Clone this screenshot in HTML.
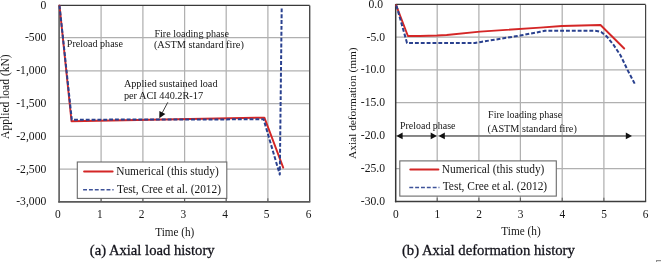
<!DOCTYPE html>
<html><head><meta charset="utf-8"><title>Axial load and deformation history</title>
<style>
html,body{margin:0;padding:0;background:#fff;}
body{width:661px;height:262px;overflow:hidden;}
svg{display:block;}
text{font-family:'Liberation Serif','Times New Roman',serif;fill:#161616;}
.cap{fill:#14141c;stroke:#14141c;stroke-width:0.3px;}
</style></head>
<body>
<svg width="661" height="262" viewBox="0 0 661 262">
<rect width="661" height="262" fill="#fff"/>
<line x1="101.10" y1="5.4" x2="101.10" y2="201.8" stroke="#b0b0b0" stroke-width="1.25"/>
<line x1="142.90" y1="5.4" x2="142.90" y2="201.8" stroke="#b0b0b0" stroke-width="1.25"/>
<line x1="184.60" y1="5.4" x2="184.60" y2="201.8" stroke="#b0b0b0" stroke-width="1.25"/>
<line x1="226.20" y1="5.4" x2="226.20" y2="201.8" stroke="#b0b0b0" stroke-width="1.25"/>
<line x1="267.90" y1="5.4" x2="267.90" y2="201.8" stroke="#b0b0b0" stroke-width="1.25"/>
<line x1="59.1" y1="37.70" x2="309.7" y2="37.70" stroke="#b0b0b0" stroke-width="1.25"/>
<line x1="59.1" y1="70.90" x2="309.7" y2="70.90" stroke="#b0b0b0" stroke-width="1.25"/>
<line x1="59.1" y1="103.60" x2="309.7" y2="103.60" stroke="#b0b0b0" stroke-width="1.25"/>
<line x1="59.1" y1="136.30" x2="309.7" y2="136.30" stroke="#b0b0b0" stroke-width="1.25"/>
<line x1="59.1" y1="169.20" x2="309.7" y2="169.20" stroke="#b0b0b0" stroke-width="1.25"/>
<text x="66.80" y="47.30" font-size="10.3" textLength="56.20" lengthAdjust="spacingAndGlyphs" class="an">Preload phase</text>
<text x="154.40" y="36.60" font-size="10.3" textLength="74.60" lengthAdjust="spacingAndGlyphs" class="an">Fire loading phase</text>
<text x="153.90" y="48.00" font-size="10.3" textLength="90.00" lengthAdjust="spacingAndGlyphs" class="an">(ASTM standard fire)</text>
<text x="123.90" y="86.80" font-size="10.3" textLength="93.60" lengthAdjust="spacingAndGlyphs" class="an">Applied sustained load</text>
<text x="123.90" y="98.50" font-size="10.3" textLength="79.20" lengthAdjust="spacingAndGlyphs" class="an">per ACI 440.2R-17</text>
<rect x="77.3" y="162.0" width="149.50" height="36.40" fill="#fff" stroke="#6a6a6a" stroke-width="1.1"/>
<line x1="84.1" y1="171.4" x2="112.6" y2="171.4" stroke="#d42626" stroke-width="2" stroke-linecap="round"/>
<line x1="83.1" y1="189.7" x2="113.6" y2="189.7" stroke="#2a418f" stroke-width="1.6" stroke-dasharray="3.9 1.95" opacity="0.9"/>
<text x="116.20" y="174.80" font-size="12.4" textLength="102.50" lengthAdjust="spacingAndGlyphs" class="lg">Numerical (this study)</text>
<text x="117.00" y="193.30" font-size="12.4" textLength="104.00" lengthAdjust="spacingAndGlyphs" class="lg">Test, Cree et al. (2012)</text>
<line x1="59.1" y1="5.4" x2="309.7" y2="5.4" stroke="#3a3a3a" stroke-width="1.2"/>
<line x1="309.7" y1="5.4" x2="309.7" y2="201.8" stroke="#4a4a4a" stroke-width="1.4"/>
<line x1="59.1" y1="4.800000000000001" x2="59.1" y2="202.60000000000002" stroke="#5a5a5a" stroke-width="1.6"/>
<line x1="58.300000000000004" y1="201.8" x2="310.3" y2="201.8" stroke="#5a5a5a" stroke-width="1.7"/>
<line x1="101.10" y1="198.3" x2="101.10" y2="201.8" stroke="#5a5a5a" stroke-width="1"/>
<line x1="142.90" y1="198.3" x2="142.90" y2="201.8" stroke="#5a5a5a" stroke-width="1"/>
<line x1="184.60" y1="198.3" x2="184.60" y2="201.8" stroke="#5a5a5a" stroke-width="1"/>
<line x1="226.20" y1="198.3" x2="226.20" y2="201.8" stroke="#5a5a5a" stroke-width="1"/>
<line x1="267.90" y1="198.3" x2="267.90" y2="201.8" stroke="#5a5a5a" stroke-width="1"/>
<polyline points="59.50,5.60 71.50,121.20 264.40,117.60 283.20,167.60" fill="none" stroke="#d42626" stroke-width="1.9" stroke-linejoin="round" stroke-linecap="round"/>
<polyline points="59.50,5.60 71.80,119.70 263.60,119.30 279.80,174.60 281.70,8.10" fill="none" stroke="#2a418f" stroke-width="2" stroke-dasharray="3.9 1.95" stroke-linejoin="round"/>
<line x1="167.8" y1="102.3" x2="162.2" y2="112.8" stroke="#333" stroke-width="0.95"/>
<polygon points="159.3,118.2 159.4,110.9 165.4,114.0" fill="#111"/>
<text x="40.48" y="8.70" font-size="12" textLength="5.82" lengthAdjust="spacingAndGlyphs" class="tk">0</text>
<text x="24.96" y="41.00" font-size="12" textLength="21.34" lengthAdjust="spacingAndGlyphs" class="tk">-500</text>
<text x="16.23" y="74.20" font-size="12" textLength="30.07" lengthAdjust="spacingAndGlyphs" class="tk">-1,000</text>
<text x="16.23" y="106.90" font-size="12" textLength="30.07" lengthAdjust="spacingAndGlyphs" class="tk">-1,500</text>
<text x="16.23" y="139.60" font-size="12" textLength="30.07" lengthAdjust="spacingAndGlyphs" class="tk">-2,000</text>
<text x="16.23" y="172.50" font-size="12" textLength="30.07" lengthAdjust="spacingAndGlyphs" class="tk">-2,500</text>
<text x="16.23" y="205.30" font-size="12" textLength="30.07" lengthAdjust="spacingAndGlyphs" class="tk">-3,000</text>
<text x="55.05" y="218.40" font-size="12" textLength="5.70" lengthAdjust="spacingAndGlyphs" class="tk">0</text>
<text x="97.05" y="218.40" font-size="12" textLength="5.70" lengthAdjust="spacingAndGlyphs" class="tk">1</text>
<text x="138.85" y="218.40" font-size="12" textLength="5.70" lengthAdjust="spacingAndGlyphs" class="tk">2</text>
<text x="180.55" y="218.40" font-size="12" textLength="5.70" lengthAdjust="spacingAndGlyphs" class="tk">3</text>
<text x="222.15" y="218.40" font-size="12" textLength="5.70" lengthAdjust="spacingAndGlyphs" class="tk">4</text>
<text x="263.85" y="218.40" font-size="12" textLength="5.70" lengthAdjust="spacingAndGlyphs" class="tk">5</text>
<text x="305.65" y="218.40" font-size="12" textLength="5.70" lengthAdjust="spacingAndGlyphs" class="tk">6</text>
<text x="155.20" y="235.60" font-size="12" textLength="39.10" lengthAdjust="spacingAndGlyphs" class="tk">Time (h)</text>
<text x="89.80" y="254.80" font-size="14.67" textLength="124.80" lengthAdjust="spacingAndGlyphs" class="cap">(a) Axial load history</text>
<text transform="translate(9.30,138.90) rotate(-90)" font-size="12.5" textLength="84.59" lengthAdjust="spacingAndGlyphs" class="yt">Applied load (kN)</text>
<line x1="437.20" y1="4.7" x2="437.20" y2="201.2" stroke="#b0b0b0" stroke-width="1.25"/>
<line x1="478.90" y1="4.7" x2="478.90" y2="201.2" stroke="#b0b0b0" stroke-width="1.25"/>
<line x1="520.40" y1="4.7" x2="520.40" y2="201.2" stroke="#b0b0b0" stroke-width="1.25"/>
<line x1="562.20" y1="4.7" x2="562.20" y2="201.2" stroke="#b0b0b0" stroke-width="1.25"/>
<line x1="603.90" y1="4.7" x2="603.90" y2="201.2" stroke="#b0b0b0" stroke-width="1.25"/>
<line x1="395.7" y1="37.20" x2="645.3" y2="37.20" stroke="#b0b0b0" stroke-width="1.25"/>
<line x1="395.7" y1="69.80" x2="645.3" y2="69.80" stroke="#b0b0b0" stroke-width="1.25"/>
<line x1="395.7" y1="102.70" x2="645.3" y2="102.70" stroke="#b0b0b0" stroke-width="1.25"/>
<line x1="395.7" y1="135.80" x2="645.3" y2="135.80" stroke="#b0b0b0" stroke-width="1.25"/>
<line x1="395.7" y1="168.70" x2="645.3" y2="168.70" stroke="#b0b0b0" stroke-width="1.25"/>
<text x="400.00" y="128.70" font-size="10.3" textLength="55.50" lengthAdjust="spacingAndGlyphs" class="an">Preload phase</text>
<text x="488.10" y="118.00" font-size="10.3" textLength="74.00" lengthAdjust="spacingAndGlyphs" class="an">Fire loading phase</text>
<text x="487.60" y="131.70" font-size="10.3" textLength="89.20" lengthAdjust="spacingAndGlyphs" class="an">(ASTM standard fire)</text>
<rect x="399.8" y="160.9" width="156.50" height="35.20" fill="#fff" stroke="#6a6a6a" stroke-width="1.1"/>
<line x1="410.3" y1="169.5" x2="438.4" y2="169.5" stroke="#d42626" stroke-width="2" stroke-linecap="round"/>
<line x1="409.3" y1="187.5" x2="439.4" y2="187.5" stroke="#2a418f" stroke-width="1.6" stroke-dasharray="3.9 1.95" opacity="0.9"/>
<text x="441.80" y="172.70" font-size="12.4" textLength="102.60" lengthAdjust="spacingAndGlyphs" class="lg">Numerical (this study)</text>
<text x="442.70" y="190.40" font-size="12.4" textLength="104.50" lengthAdjust="spacingAndGlyphs" class="lg">Test, Cree et al. (2012)</text>
<line x1="395.7" y1="4.35" x2="645.6" y2="4.35" stroke="#383838" stroke-width="1.1"/>
<line x1="645.6" y1="4.7" x2="645.6" y2="201.2" stroke="#444" stroke-width="1.2"/>
<line x1="395.7" y1="4.1000000000000005" x2="395.7" y2="202.3" stroke="#363636" stroke-width="1.5"/>
<line x1="394.9" y1="201.5" x2="646.2" y2="201.5" stroke="#3c3c3c" stroke-width="1.5"/>
<line x1="437.20" y1="197.7" x2="437.20" y2="201.2" stroke="#5a5a5a" stroke-width="1"/>
<line x1="478.90" y1="197.7" x2="478.90" y2="201.2" stroke="#5a5a5a" stroke-width="1"/>
<line x1="520.40" y1="197.7" x2="520.40" y2="201.2" stroke="#5a5a5a" stroke-width="1"/>
<line x1="562.20" y1="197.7" x2="562.20" y2="201.2" stroke="#5a5a5a" stroke-width="1"/>
<line x1="603.90" y1="197.7" x2="603.90" y2="201.2" stroke="#5a5a5a" stroke-width="1"/>
<polyline points="396.20,5.30 407.90,36.00 420.00,36.00 437.10,35.50 446.70,35.00 480.00,31.60 540.00,27.60 562.00,26.00 600.50,25.00 624.20,48.50" fill="none" stroke="#d42626" stroke-width="1.9" stroke-linejoin="round" stroke-linecap="round"/>
<polyline points="396.40,5.50 407.00,42.90 475.00,43.00 481.00,41.90 520.00,35.60 540.00,31.80 545.00,30.80 595.00,30.80 598.00,31.20 601.10,32.00 606.90,36.60 613.80,45.20 620.60,55.50 627.60,70.10 635.20,84.60" fill="none" stroke="#2a418f" stroke-width="2" stroke-dasharray="3.9 1.95" stroke-linejoin="round"/>
<line x1="400" y1="135.9" x2="433" y2="135.9" stroke="#707070" stroke-width="1.5"/>
<line x1="442" y1="135.9" x2="628" y2="135.9" stroke="#707070" stroke-width="1.5"/>
<polygon points="396.4,135.9 402.59999999999997,132.6 402.59999999999997,139.20000000000002" fill="#111"/>
<polygon points="436.9,135.9 430.7,132.6 430.7,139.20000000000002" fill="#111"/>
<polygon points="438.6,135.9 444.8,132.6 444.8,139.20000000000002" fill="#111"/>
<polygon points="632.0,135.9 625.8,132.6 625.8,139.20000000000002" fill="#111"/>
<text x="368.55" y="7.70" font-size="12" textLength="14.55" lengthAdjust="spacingAndGlyphs" class="tk">0.0</text>
<text x="366.57" y="40.50" font-size="12" textLength="18.43" lengthAdjust="spacingAndGlyphs" class="tk">-5.0</text>
<text x="360.75" y="73.10" font-size="12" textLength="24.25" lengthAdjust="spacingAndGlyphs" class="tk">-10.0</text>
<text x="360.75" y="106.00" font-size="12" textLength="24.25" lengthAdjust="spacingAndGlyphs" class="tk">-15.0</text>
<text x="360.75" y="139.10" font-size="12" textLength="24.25" lengthAdjust="spacingAndGlyphs" class="tk">-20.0</text>
<text x="360.75" y="172.00" font-size="12" textLength="24.25" lengthAdjust="spacingAndGlyphs" class="tk">-25.0</text>
<text x="360.75" y="204.70" font-size="12" textLength="24.25" lengthAdjust="spacingAndGlyphs" class="tk">-30.0</text>
<text x="393.05" y="218.40" font-size="12" textLength="5.70" lengthAdjust="spacingAndGlyphs" class="tk">0</text>
<text x="434.55" y="218.40" font-size="12" textLength="5.70" lengthAdjust="spacingAndGlyphs" class="tk">1</text>
<text x="476.25" y="218.40" font-size="12" textLength="5.70" lengthAdjust="spacingAndGlyphs" class="tk">2</text>
<text x="517.75" y="218.40" font-size="12" textLength="5.70" lengthAdjust="spacingAndGlyphs" class="tk">3</text>
<text x="559.55" y="218.40" font-size="12" textLength="5.70" lengthAdjust="spacingAndGlyphs" class="tk">4</text>
<text x="601.25" y="218.40" font-size="12" textLength="5.70" lengthAdjust="spacingAndGlyphs" class="tk">5</text>
<text x="642.65" y="218.40" font-size="12" textLength="5.70" lengthAdjust="spacingAndGlyphs" class="tk">6</text>
<text x="501.30" y="235.20" font-size="12" textLength="39.40" lengthAdjust="spacingAndGlyphs" class="tk">Time (h)</text>
<text x="401.90" y="254.80" font-size="14.67" textLength="172.99" lengthAdjust="spacingAndGlyphs" class="cap">(b) Axial deformation history</text>
<text transform="translate(356.20,158.90) rotate(-90)" font-size="11.3" textLength="111.50" lengthAdjust="spacingAndGlyphs" class="yt">Axial deformation (mm)</text>
<rect x="656.5" y="260.5" width="5" height="3" fill="#e4e4e4" stroke="#8f8f8f" stroke-width="1"/>
</svg>
</body></html>
